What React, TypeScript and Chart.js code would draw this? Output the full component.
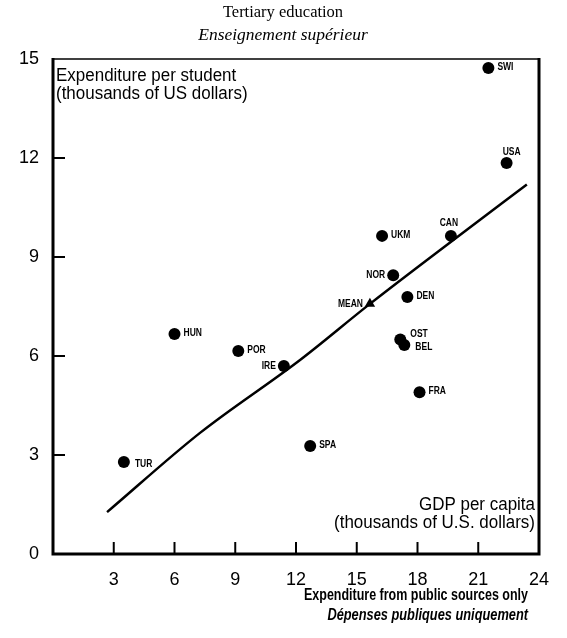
import { useEffect, useRef } from "react";
import { Chart, registerables } from "chart.js";

Chart.register(...registerables);

// ---- data ----
const countries = ["SWI", "USA", "CAN", "UKM", "NOR", "DEN", "OST", "BEL", "FRA", "SPA", "IRE", "POR", "HUN", "TUR"];
const gdpPerCapita = [21.5, 22.4, 19.65, 16.25, 16.8, 17.5, 17.15, 17.35, 18.1, 12.7, 11.4, 9.15, 6.0, 3.5];
const expenditurePerStudent = [14.73, 11.85, 9.64, 9.64, 8.45, 7.79, 6.5, 6.33, 4.9, 3.27, 5.7, 6.15, 6.67, 2.79];
const labelSide = ["right", "aboveRight", "above", "right", "left", "right", "upperRight", "lowerRight", "right", "right", "left", "right", "right", "lowerRight"];
const meanLabel = ["MEAN"];
const meanGdp = [15.65];
const meanExpenditure = [7.58];
const trendGdp = [2.67, 7.26, 12.2, 15.65, 19.95, 23.4];
const trendExpenditure = [1.27, 3.67, 5.88, 7.58, 9.6, 11.2];
const xTickValues = [3, 6, 9, 12, 15, 18, 21];
const yTickValues = [3, 6, 9, 12];

const SANS = '"Liberation Sans", Arial, sans-serif';
const SERIF = '"Liberation Serif", "Times New Roman", serif';

function drawNarrow(ctx: CanvasRenderingContext2D, text: string, x: number, y: number, align: "left" | "right" | "center", squeeze: number) {
  ctx.save();
  ctx.translate(x, y);
  ctx.scale(squeeze, 1);
  ctx.textAlign = align;
  ctx.fillText(text, 0, 0);
  ctx.restore();
}

const offsets: Record<string, [number, number, "left" | "right" | "center"]> = {
  right: [9, -1, "left"],
  left: [-8, 0, "right"],
  above: [-2, -13, "center"],
  aboveRight: [5, -11, "center"],
  upperRight: [10, -5, "left"],
  lowerRight: [11, 2, "left"],
};

const decorPlugin = {
  id: "decor",
  afterDatasetsDraw(chart: any) {
    const ctx: CanvasRenderingContext2D = chart.ctx;
    const xs = chart.scales.x;
    const ys = chart.scales.y;
    const a = chart.chartArea;
    ctx.save();
    ctx.fillStyle = "#000";
    ctx.strokeStyle = "#000";
    // frame
    ctx.lineCap = "butt";
    ctx.lineWidth = 3;
    ctx.beginPath();
    ctx.moveTo(a.left, a.top - 1);
    ctx.lineTo(a.left, a.bottom);
    ctx.lineTo(a.right, a.bottom);
    ctx.lineTo(a.right, a.top - 1);
    ctx.stroke();
    ctx.lineWidth = 1.5;
    ctx.beginPath();
    ctx.moveTo(a.left, a.top);
    ctx.lineTo(a.right, a.top);
    ctx.stroke();
    // inward ticks
    ctx.lineWidth = 2;
    yTickValues.forEach((v) => {
      const py = ys.getPixelForValue(v);
      ctx.beginPath();
      ctx.moveTo(a.left, py);
      ctx.lineTo(a.left + 12, py);
      ctx.stroke();
    });
    xTickValues.forEach((v) => {
      const px = xs.getPixelForValue(v);
      ctx.beginPath();
      ctx.moveTo(px, a.bottom);
      ctx.lineTo(px, a.bottom - 12);
      ctx.stroke();
    });
    // point labels
    ctx.font = "bold 10px " + SANS;
    ctx.textBaseline = "middle";
    countries.forEach((c, i) => {
      const px = xs.getPixelForValue(gdpPerCapita[i]);
      const py = ys.getPixelForValue(expenditurePerStudent[i]);
      const [dx, dy, al] = offsets[labelSide[i]];
      drawNarrow(ctx, c, px + dx, py + dy, al, 0.85);
    });
    meanLabel.forEach((m, i) => {
      const px = xs.getPixelForValue(meanGdp[i]);
      const py = ys.getPixelForValue(meanExpenditure[i]);
      drawNarrow(ctx, m, px - 7, py, "right", 0.85);
    });
    // axis captions inside plot
    ctx.font = "17.5px " + SANS;
    ctx.textBaseline = "middle";
    drawNarrow(ctx, "Expenditure per student", a.left + 3, 76, "left", 0.97);
    drawNarrow(ctx, "(thousands of US dollars)", a.left + 3, 94, "left", 0.97);
    drawNarrow(ctx, "GDP per capita", a.right - 4, 505, "right", 0.97);
    drawNarrow(ctx, "(thousands of U.S. dollars)", a.right - 4, 523, "right", 0.97);
    // titles
    ctx.font = "16.5px " + SERIF;
    ctx.textAlign = "center";
    ctx.fillText("Tertiary education", 283, 13);
    ctx.font = "italic 17.5px " + SERIF;
    ctx.fillText("Enseignement supérieur", 283, 35);
    // bottom notes
    ctx.font = "bold 16px " + SANS;
    drawNarrow(ctx, "Expenditure from public sources only", 528, 596, "right", 0.78);
    ctx.font = "italic bold 16px " + SANS;
    drawNarrow(ctx, "Dépenses publiques uniquement", 528, 616, "right", 0.8);
    ctx.restore();
  },
};

export default function App() {
  const ref = useRef<HTMLCanvasElement | null>(null);
  useEffect(() => {
    if (!ref.current) return;
    const chart = new Chart(ref.current, {
      type: "scatter",
      data: {
        datasets: [
          {
            label: "Trend",
            data: trendGdp.map((x, i) => ({ x, y: trendExpenditure[i] })),
            showLine: true,
            borderColor: "#000",
            borderWidth: 2.5,
            pointRadius: 0,
            cubicInterpolationMode: "monotone",
          } as any,
          {
            label: "Countries",
            data: gdpPerCapita.map((x, i) => ({ x, y: expenditurePerStudent[i] })),
            backgroundColor: "#000",
            borderWidth: 0,
            pointRadius: 6,
            pointStyle: "circle",
          },
          {
            label: "Mean",
            data: meanGdp.map((x, i) => ({ x, y: meanExpenditure[i] })),
            backgroundColor: "#000",
            borderWidth: 0,
            pointRadius: 6,
            pointStyle: "triangle",
          },
        ],
      },
      options: {
        animation: false,
        responsive: true,
        maintainAspectRatio: false,
        layout: { padding: { top: 59, right: 28, left: 0, bottom: 0 } },
        plugins: {
          legend: { display: false },
          title: { display: false },
          tooltip: { enabled: false },
        },
        scales: {
          x: {
            type: "linear",
            min: 0,
            max: 24,
            grid: { display: false },
            border: { display: false },
            ticks: {
              stepSize: 3,
              color: "#000",
              padding: 7,
              font: { family: SANS, size: 18 },
              callback: (v: any) => (v === 0 ? "" : String(v)),
            },
            afterFit: (s: any) => {
              s.height = 84;
            },
          },
          y: {
            type: "linear",
            min: 0,
            max: 15,
            grid: { display: false },
            border: { display: false },
            ticks: {
              stepSize: 3,
              color: "#000",
              padding: 6,
              font: { family: SANS, size: 18 },
            },
            afterFit: (s: any) => {
              s.width = 53;
            },
          },
        },
      },
      plugins: [decorPlugin],
    });
    return () => chart.destroy();
  }, []);
  return (
    <div style={{ position: "absolute", left: 0, top: 0, width: 567, height: 638, background: "#fff" }}>
      <canvas ref={ref} />
    </div>
  );
}
